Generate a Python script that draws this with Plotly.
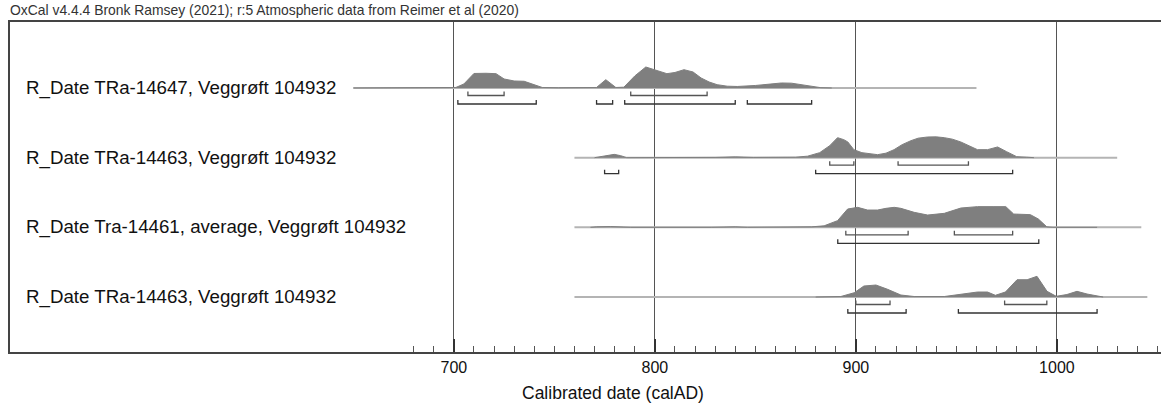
import plotly.graph_objects as go

# OxCal R_Date posterior probability plots
labels = [
    "R_Date TRa-14647, Veggrøft 104932",
    "R_Date TRa-14463, Veggrøft 104932",
    "R_Date Tra-14461, average, Veggrøft 104932",
    "R_Date TRa-14463, Veggrøft 104932",
]

# likelihood line extents (calAD)
line_start = [650, 760, 760, 760]
line_end = [960, 1030, 1042, 1045]

# probability curves (date calAD, relative height)
r1_dates = [650, 677, 690, 698, 701, 705, 710, 716, 721, 725, 730, 735, 740, 744, 752, 768, 771, 775.6, 780.6,
            784.6, 790, 795.5, 800, 806, 810, 814.5, 819, 823, 827, 831, 836, 841, 850, 857, 863, 868, 873, 878, 882.6, 888]
r1_prob = [0, 0.3, 1, 0.5, 0.5, 4, 14.5, 14.7, 14.3, 9, 7, 6.7, 3, 0.5, 0.2, 0.3, 0.5, 8.3, 0.5,
           0.8, 12, 21, 18, 14.3, 15.5, 18.3, 16, 10, 6, 3.3, 1.8, 1.5, 2.5, 4.2, 5, 4.8, 3.5, 1.5, 0.3, 0]

r2_dates = [770, 774, 779.8, 783, 786, 830, 840, 849, 870, 876, 882, 887, 890.9, 894, 896, 899, 903, 910.8, 915,
            919, 923, 927.4, 931, 935.7, 940, 944, 948, 952.2, 956, 960.5, 965.5, 970.5, 975, 980, 985, 988.6]
r2_prob = [0, 1.5, 3.3, 2, 0, 0.3, 0.8, 0.3, 0.5, 1.5, 5, 12, 20, 18, 15.7, 8, 5, 3, 4.5,
           8, 13, 17, 19.5, 20.7, 20.8, 20, 18.5, 15.7, 12, 8, 8, 10.7, 6, 1, 0.5, 0]

r3_dates = [768, 771, 778, 785, 788, 828, 833, 840, 846, 871, 878, 884.2, 890.9, 895.9, 900.9, 905.8, 910.8, 915,
            919.1, 922.4, 929, 935.7, 944, 952.2, 960.5, 968.7, 974.6, 978.5, 986.8, 990.8, 995, 998,
            1005, 1008, 1016, 1020]
r3_prob = [0, 0.5, 0.8, 0.4, 0, 0, 0.5, 0.5, 0, 0, 0.5, 1.5, 6.7, 18.3, 20, 17.3, 17.3, 19,
           20, 19, 15, 12.3, 14, 19.3, 20.7, 20.7, 20.7, 13.3, 12.7, 8.3, 0.5, 0,
           0, 0.5, 0.5, 0]

r4_dates = [880, 892.5, 899.2, 904, 910, 915.8, 922.4, 929, 944, 952, 960.5, 965.5, 969.4, 974.4, 980.2, 985.2,
            990.1, 995.1, 999.7, 1005, 1010, 1015, 1019.9, 1023]
r4_prob = [0, 0.5, 4.3, 11, 12, 7.7, 2, 0.5, 0.5, 2.7, 5, 5, 1.7, 5, 17.3, 17.3,
           20.7, 5.7, 0.7, 2.5, 5.7, 3, 1, 0]

# highest posterior density ranges
hpd68 = [
    [(707, 725), (788, 826)],
    [(887, 899), (921, 956)],
    [(895, 926), (949, 978)],
    [(900, 917), (974, 995)],
]
hpd95 = [
    [(702, 741), (771, 779), (785, 840), (846, 878)],
    [(775, 782), (880, 978)],
    [(891, 991)],
    [(896, 925), (951, 1020)],
]

curves = [(r1_dates, r1_prob), (r2_dates, r2_prob), (r3_dates, r3_prob), (r4_dates, r4_prob)]

PX = 69.7  # pixels per row unit
FONT = "Liberation Sans, Arial, sans-serif"

fig = go.Figure()

n = len(labels)
for i in range(n):
    base = n - i
    # likelihood line
    fig.add_trace(go.Scatter(x=[line_start[i], line_end[i]], y=[base, base], mode="lines",
                             line=dict(color="#b4b4b4", width=2), hoverinfo="skip"))
    # probability distribution
    d, p = curves[i]
    fig.add_trace(go.Scatter(x=d, y=[base + v / PX for v in p], mode="lines", fill="toself",
                             fillcolor="#7f7f7f", line=dict(color="#7f7f7f", width=1), hoverinfo="skip"))
    # range brackets
    for ranges, off, col in [(hpd68[i], 7.5, "#555555"), (hpd95[i], 16, "#333333")]:
        bx, by = [], []
        yb = base - off / PX
        yt = yb + 4 / PX
        for a, b in ranges:
            bx += [a, a, b, b, None]
            by += [yt, yb, yb, yt, None]
        fig.add_trace(go.Scatter(x=bx, y=by, mode="lines", line=dict(color=col, width=1.3), hoverinfo="skip"))
    fig.add_annotation(x=(24 - 10) / 1151, xref="paper", y=base, yref="y", text=labels[i], showarrow=False,
                       xanchor="left", yanchor="middle", font=dict(size=18.7, color="#111111", family=FONT))

fig.add_annotation(x=779, xref="x", y=-41 / 330, yref="paper", text="Calibrated date (calAD)", showarrow=False,
                   xanchor="center", yanchor="middle", font=dict(size=17.5, color="#111111", family=FONT))

fig.update_layout(
    width=1171, height=412,
    margin=dict(l=10, r=10, t=22, b=60),
    plot_bgcolor="white", paper_bgcolor="white",
    showlegend=False,
    title=dict(text="OxCal v4.4.4 Bronk Ramsey (2021); r:5 Atmospheric data from Reimer et al (2020)",
               x=10 / 1171, xanchor="left", y=1 - 10 / 412, yanchor="middle",
               font=dict(size=13.9, color="#333333", family=FONT)),
)
fig.update_xaxes(
    range=[479.2, 1051.8],
    tickmode="array", tickvals=[700, 800, 900, 1000],
    ticks="inside", ticklen=13, tickwidth=2, tickcolor="#333333",
    showgrid=True, gridcolor="#555555", gridwidth=1,
    showline=True, linecolor="#444444", linewidth=1.5, mirror=True,
    zeroline=False,
    tickfont=dict(size=16, color="#111111", family=FONT),
    minor=dict(tickmode="array", tickvals=[v for v in range(680, 1051, 10) if v % 100],
               ticks="inside", ticklen=6, tickwidth=1, tickcolor="#555555", showgrid=False),
)
fig.update_yaxes(
    range=[1 - (352 - 297) / PX, 4 + (88 - 22) / PX],
    showticklabels=False, showgrid=False, zeroline=False, ticks="",
    showline=True, linecolor="#444444", linewidth=1.5,
)

fig.write_html("out.html", config={"displayModeBar": False},
               post_script="document.body.style.margin='0px';")
